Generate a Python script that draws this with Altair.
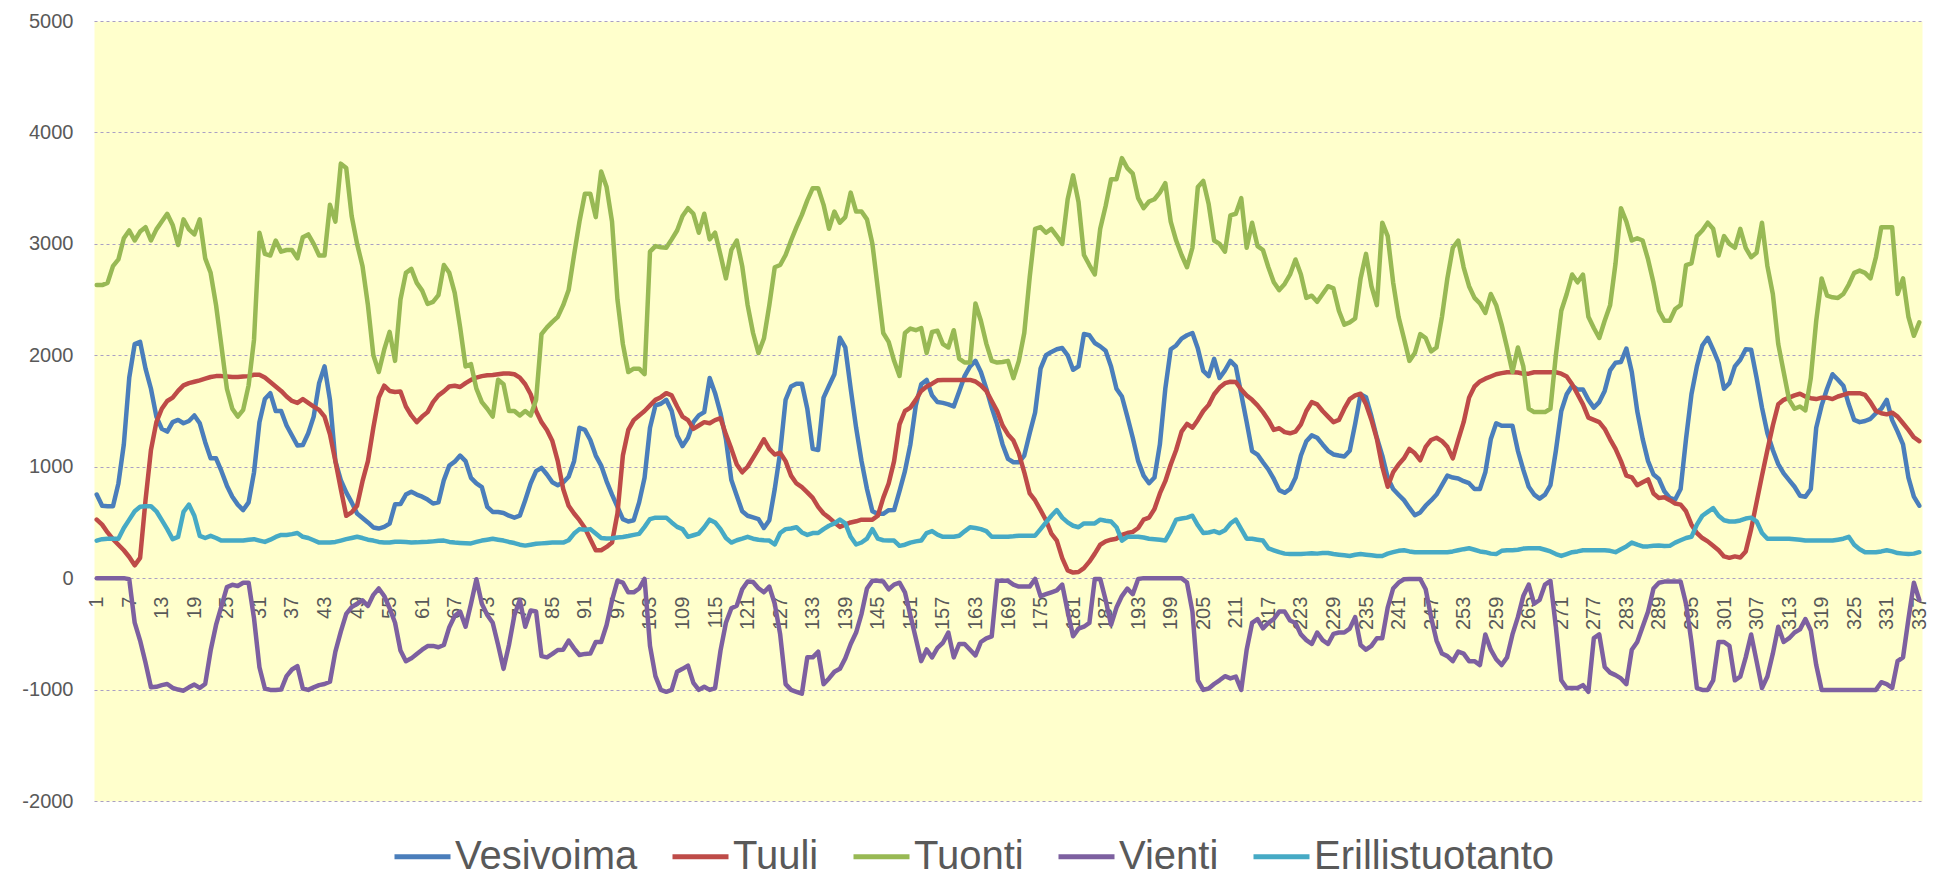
import altair as alt
import pandas as pd

categories = list(range(1, 338))
tick_labels = list(range(1, 338, 6))
y_ticks = list(range(-2000, 5001, 1000))

series_names = ["Vesivoima", "Tuuli", "Tuonti", "Vienti", "Erillistuotanto"]
series_colors = ["#4A7EBB", "#BE4B48", "#98B954", "#7D60A0", "#46AAC5"]

vesivoima = [
    750, 650, 645, 645, 850, 1200, 1800, 2100, 2120, 1880,
    1700, 1450, 1340, 1315, 1400, 1420, 1390, 1410, 1460, 1390,
    1220, 1075, 1075, 960, 830, 730, 660, 611, 680, 950,
    1400, 1607, 1660, 1500, 1500, 1370, 1280, 1190, 1195, 1300,
    1450, 1750, 1900, 1600, 1050, 880, 770, 680, 580, 540,
    500, 455, 445, 460, 490, 663, 665, 750, 775, 750,
    731, 705, 670, 680, 880, 1010, 1045, 1100, 1050, 900,
    850, 817, 640, 594, 594, 585, 560, 543, 560, 700,
    850, 960, 990, 930, 860, 834, 860, 910, 1050, 1350,
    1330, 1240, 1100, 1010, 869, 750, 640, 530, 508, 520,
    680, 900, 1350, 1550, 1565, 1600, 1500, 1280, 1185, 1260,
    1400, 1460, 1490, 1796, 1660, 1480, 1246, 880, 740, 600,
    560, 545, 530, 450, 520, 800, 1130, 1600, 1720, 1745,
    1745, 1520, 1160, 1150, 1620, 1727, 1830, 2157, 2071, 1700,
    1350, 1050, 800, 600, 577, 577, 610, 611, 780, 960,
    1200, 1550, 1740, 1779, 1640, 1580, 1573, 1560, 1540, 1676,
    1813, 1900, 1950, 1850, 1700, 1530, 1380, 1200, 1070, 1040,
    1040, 1100, 1300, 1487, 1880, 2000, 2030, 2054, 2065, 2000,
    1870, 1900, 2191, 2180, 2110, 2080, 2040, 1900, 1700, 1630,
    1450, 1260, 1050, 920, 852, 903, 1200, 1700, 2054, 2088,
    2150, 2180, 2200, 2060, 1860, 1813, 1968, 1796, 1865, 1950,
    1900, 1650, 1400, 1140, 1109, 1040, 975, 890, 790, 766,
    800, 900, 1100, 1229, 1281, 1260, 1200, 1143, 1110, 1100,
    1092, 1143, 1384, 1650, 1624, 1453, 1260, 1100, 900, 800,
    749, 700, 630, 565, 590, 650, 697, 750, 834, 920,
    903, 895, 870, 852, 800, 800, 950, 1246, 1390, 1367,
    1367, 1367, 1143, 972, 820, 750, 714, 749, 834, 1143,
    1500, 1650, 1727, 1693, 1693, 1600, 1530, 1580, 1680, 1865,
    1933, 1940, 2060, 1850, 1500, 1250, 1050, 930, 890, 780,
    720, 705, 800, 1250, 1650, 1900, 2088, 2157, 2050, 1933,
    1700, 1750, 1900, 1960, 2054, 2050, 1800, 1530, 1300, 1150,
    1023, 940, 880, 820, 740, 731, 800, 1350, 1550, 1700,
    1830, 1780, 1727, 1560, 1420, 1400, 1410, 1430, 1480, 1520,
    1600, 1418, 1315, 1200, 903, 731, 650,
]

tuuli = [
    525, 480, 410, 350, 300, 250, 190, 115, 182, 700,
    1150, 1400, 1520, 1590, 1620, 1680, 1730, 1750, 1762, 1775,
    1790, 1805, 1813, 1813, 1810, 1805, 1805, 1810, 1813, 1825,
    1825, 1800, 1760, 1720, 1680, 1630, 1590, 1573, 1607, 1573,
    1540, 1510, 1450, 1290, 1050, 800, 560, 590, 650, 870,
    1050, 1350, 1620, 1727, 1680, 1670, 1676, 1540, 1460, 1400,
    1450, 1490, 1580, 1640, 1676, 1720, 1727, 1715, 1750, 1780,
    1800, 1813, 1820, 1823, 1830, 1837, 1837, 1830, 1800, 1740,
    1650, 1500, 1400, 1330, 1230, 1050, 800, 650, 580, 520,
    450, 350, 250, 250, 280, 320, 580, 1100, 1330, 1418,
    1460, 1500, 1550, 1600, 1624, 1660, 1640, 1540, 1450, 1418,
    1340, 1370, 1400, 1390, 1418, 1435, 1290, 1160, 1020, 950,
    1000, 1080, 1160, 1246, 1160, 1109, 1126, 1050, 920, 850,
    817, 770, 720, 640, 580, 543, 500, 460, 480, 500,
    510, 525, 525, 525, 560, 720, 850, 1050, 1380, 1500,
    1530, 1600, 1680, 1720, 1745, 1775, 1779, 1779, 1779, 1779,
    1779, 1779, 1765, 1730, 1680, 1590, 1500, 1370, 1290, 1235,
    1120, 950, 760, 697, 610, 520, 400, 337, 180, 70,
    50, 55, 90, 148, 220, 300, 330, 345, 354, 388,
    405, 415, 450, 525, 543, 620, 760, 870, 1020, 1150,
    1315, 1384, 1350, 1420, 1500, 1555, 1650, 1710, 1750, 1762,
    1760, 1693, 1640, 1600, 1550, 1490, 1420, 1330, 1345, 1310,
    1300, 1315, 1380, 1500, 1580, 1560, 1500, 1450, 1400, 1420,
    1521, 1607, 1640, 1655, 1560, 1420, 1250, 1000, 820, 950,
    1020, 1075, 1160, 1120, 1058, 1178, 1240, 1260, 1230, 1178,
    1075, 1240, 1400, 1620, 1720, 1765, 1790, 1810, 1830, 1840,
    1848, 1848, 1845, 1835, 1835, 1848, 1848, 1848, 1848, 1848,
    1835, 1810, 1740, 1650, 1560, 1440, 1420, 1400, 1340, 1246,
    1160, 1050, 920, 905, 834, 860, 886, 760, 720, 725,
    700, 670, 660, 600, 480, 405, 360, 330, 290, 250,
    195, 182, 195, 185, 240, 440, 680, 920, 1150, 1370,
    1560, 1600, 1620, 1640, 1655, 1630, 1615, 1607, 1620, 1620,
    1607, 1630, 1645, 1660, 1660, 1660, 1645, 1580, 1500, 1480,
    1470, 1485, 1450, 1390, 1330, 1264, 1229,
]

tuonti = [
    2630, 2630, 2650, 2800, 2860, 3050, 3120, 3030, 3110, 3150,
    3030, 3130, 3200, 3270, 3170, 2990, 3220, 3130, 3085, 3220,
    2870, 2740, 2450, 2080, 1700, 1520, 1450, 1510, 1730, 2140,
    3100, 2910, 2895, 3030, 2930, 2945, 2945, 2870, 3060, 3085,
    3000, 2895, 2895, 3350, 3200, 3720, 3680, 3250, 3000, 2800,
    2450, 2000, 1850, 2050, 2210, 1950, 2500, 2740, 2775, 2650,
    2580, 2460, 2480, 2540, 2810, 2740, 2560, 2250, 1900, 1920,
    1700, 1580, 1520, 1450, 1780, 1740, 1500, 1500, 1460, 1500,
    1460, 1600, 2190, 2250, 2300, 2345, 2450, 2585, 2900, 3200,
    3450, 3450, 3240, 3650, 3510, 3200, 2500, 2100, 1850, 1880,
    1880, 1830, 2930, 2980, 2970, 2965, 3040, 3120, 3250, 3320,
    3270, 3100, 3270, 3040, 3100, 2900, 2690, 2945, 3030, 2800,
    2450, 2200, 2020, 2150, 2450, 2790, 2810, 2900, 3030, 3150,
    3260, 3390, 3500, 3500, 3350, 3135, 3290, 3190, 3240, 3460,
    3290, 3290, 3220, 3000, 2600, 2200, 2120, 1950, 1815, 2200,
    2240, 2225, 2245, 2020, 2210, 2220, 2100, 2070, 2225, 1970,
    1935, 1935, 2465, 2310, 2105, 1950, 1935, 1940, 1950, 1795,
    1950, 2200, 2700, 3135, 3150, 3100, 3135, 3070, 3000, 3400,
    3615, 3375, 2900, 2810, 2725, 3135, 3340, 3580, 3580, 3770,
    3680, 3630, 3410, 3320, 3380, 3400, 3460, 3545, 3200, 3030,
    2900, 2790, 2965, 3510, 3565, 3355, 3030, 3000, 2930, 3255,
    3270, 3410, 2965, 3190, 2980, 2945, 2790, 2655, 2585, 2640,
    2725, 2860, 2725, 2515, 2535, 2480, 2550, 2620, 2600, 2400,
    2275, 2295, 2330, 2690, 2910, 2620, 2450, 3190, 3070, 2655,
    2345, 2150, 1950, 2020, 2190, 2155, 2035, 2070, 2345, 2690,
    2965, 3030, 2790, 2620, 2515, 2465, 2380, 2550, 2450, 2275,
    2070, 1850, 2070, 1900, 1520, 1490, 1490, 1490, 1520, 2000,
    2400, 2550, 2725, 2655, 2725, 2345, 2245, 2155, 2310, 2450,
    2825, 3320, 3200, 3030, 3050, 3030, 2860, 2650, 2400, 2310,
    2310, 2415, 2450, 2810, 2825, 3070, 3120, 3190, 3135, 2895,
    3070, 3000, 2965, 3135, 2965, 2880, 2920, 3190, 2800, 2550,
    2100, 1850, 1600, 1520, 1540, 1505, 1795, 2310, 2690, 2535,
    2520, 2515, 2550, 2635, 2740, 2760, 2740, 2690, 2880, 3150,
    3150, 3150, 2550, 2690, 2345, 2175, 2295,
]

vienti = [
    0, 0, 0, 0, 0, 0, -10, -400, -560, -760,
    -980, -975, -960, -950, -985, -1000, -1010, -980, -955, -985,
    -950, -650, -420, -250, -80, -60, -70, -41, -41, -360,
    -800, -990, -1003, -1003, -1000, -880, -820, -790, -990, -1003,
    -980, -960, -950, -930, -660, -480, -320, -260, -230, -200,
    -250, -150, -93, -160, -270, -400, -650, -745, -720, -680,
    -642, -610, -608, -620, -600, -440, -340, -300, -436, -230,
    -10, -230, -330, -400, -600, -814, -600, -333, -196, -436,
    -290, -300, -700, -711, -680, -645, -642, -560, -630, -690,
    -680, -677, -573, -573, -420, -200, -24, -41, -127, -127,
    -93, -7, -608, -880, -1003, -1020, -1003, -840, -814, -785,
    -940, -1003, -975, -1003, -986, -650, -400, -270, -247, -100,
    -30, -35, -90, -127, -76, -230, -505, -951, -1003, -1020,
    -1037, -711, -711, -660, -951, -900, -840, -814, -720, -591,
    -488, -320, -93, -24, -24, -30, -100, -58, -41, -127,
    -333, -539, -745, -640, -711, -625, -580, -488, -711, -591,
    -591, -642, -694, -573, -540, -522, -24, -24, -24, -58,
    -76, -76, -76, -7, -161, -144, -127, -110, -58, -299,
    -522, -453, -436, -402, -7, -7, -196, -419, -264, -161,
    -93, -144, -7, 0, 0, 0, 0, 0, 0, 0,
    0, -40, -300, -917, -1003, -990, -950, -917, -880, -900,
    -883, -1003, -642, -402, -367, -450, -402, -367, -300, -300,
    -380, -402, -505, -556, -591, -488, -556, -591, -500, -488,
    -488, -453, -350, -600, -642, -608, -539, -539, -264, -93,
    -41, -10, -7, -7, -7, -100, -350, -560, -677, -700,
    -745, -659, -677, -745, -745, -780, -505, -642, -728, -780,
    -711, -505, -350, -161, -58, -230, -196, -58, -24, -436,
    -917, -986, -986, -986, -960, -1020, -539, -505, -797, -848,
    -870, -900, -951, -642, -573, -436, -299, -93, -41, -31,
    -31, -31, -31, -230, -573, -986, -1003, -1003, -917, -573,
    -573, -608, -917, -883, -711, -505, -745, -986, -883, -677,
    -436, -573, -539, -488, -460, -367, -470, -780, -1003, -1003,
    -1003, -1003, -1003, -1003, -1003, -1003, -1003, -1003, -1003, -934,
    -951, -986, -745, -711, -367, -41, -196,
]

erillistuotanto = [
    337, 350, 354, 354, 354, 450, 525, 600, 640, 645,
    645, 600, 520, 440, 350, 370, 594, 660, 560, 380,
    360, 380, 360, 337, 337, 337, 337, 337, 345, 350,
    337, 325, 345, 370, 388, 388, 395, 405, 371, 360,
    340, 319, 319, 319, 325, 337, 350, 360, 371, 360,
    345, 337, 325, 319, 319, 326, 326, 324, 320, 321,
    324, 326, 330, 335, 337, 325, 319, 316, 314, 312,
    325, 337, 345, 354, 345, 337, 325, 315, 300, 292,
    300, 308, 312, 316, 319, 319, 319, 340, 400, 440,
    435, 440, 400, 360, 355, 358, 365, 370, 378, 388,
    397, 460, 530, 543, 543, 543, 500, 460, 440, 371,
    385, 400, 457, 525, 500, 440, 360, 319, 340, 354,
    371, 354, 345, 340, 337, 302, 405, 440, 445, 457,
    410, 388, 405, 405, 440, 470, 491, 525, 491, 371,
    302, 320, 354, 440, 354, 340, 337, 337, 290, 300,
    319, 330, 337, 405, 422, 390, 371, 371, 371, 380,
    420, 457, 450, 440, 422, 371, 371, 371, 371, 375,
    381, 381, 381, 381, 440, 500, 560, 611, 543, 500,
    470, 457, 491, 491, 491, 525, 515, 508, 457, 337,
    371, 371, 371, 365, 354, 350, 345, 337, 422, 525,
    535, 543, 560, 474, 405, 410, 422, 405, 430, 490,
    525, 440, 354, 354, 345, 337, 268, 250, 233, 220,
    216, 216, 216, 220, 223, 220, 225, 225, 216, 210,
    205, 199, 210, 216, 210, 205, 199, 199, 220, 233,
    245, 250, 240, 233, 233, 233, 233, 233, 233, 233,
    240, 250, 260, 268, 255, 240, 233, 220, 216, 245,
    250, 250, 255, 265, 268, 268, 268, 255, 240, 216,
    199, 216, 233, 240, 250, 250, 250, 250, 250, 245,
    233, 260, 285, 319, 300, 285, 285, 290, 292, 288,
    290, 319, 340, 360, 371, 480, 560, 594, 628, 560,
    520, 508, 508, 518, 535, 543, 510, 405, 354, 354,
    354, 354, 354, 350, 345, 337, 337, 337, 337, 337,
    337, 345, 354, 371, 300, 260, 233, 233, 233, 240,
    250, 240, 225, 220, 216, 220, 233,
]

all_series = [vesivoima, tuuli, tuonti, vienti, erillistuotanto]
for name, vals in zip(series_names, all_series):
    if len(vals) != len(categories):
        raise ValueError(f"{name} has {len(vals)} values, expected {len(categories)}")

rows = []
for k, (name, vals) in enumerate(zip(series_names, all_series)):
    for c, v in zip(categories, vals):
        rows.append({"Tunti": c, "MW": v, "Sarja": name, "jarj": k})
df = pd.DataFrame(rows)

FONT = "Liberation Sans"
GREY = "#595959"

PLOT_W = 1828
PLOT_H = 780
zero_offset = -PLOT_H * 2000 / 7000

chart = (
    alt.Chart(df)
    .mark_line(strokeWidth=4.5, strokeJoin="round", strokeCap="round")
    .encode(
        x=alt.X(
            "Tunti:Q",
            scale=alt.Scale(domain=[0.5, 337.5], nice=False, zero=False),
            axis=alt.Axis(
                values=tick_labels,
                labelAngle=-90,
                grid=False,
                domain=False,
                ticks=False,
                title=None,
                offset=zero_offset,
                labelPadding=18,
                labelFontSize=20,
                labelFont=FONT,
                labelColor=GREY,
                labelOverlap=False,
                labelFlush=False,
                labelBound=False,
            ),
        ),
        y=alt.Y(
            "MW:Q",
            scale=alt.Scale(domain=[-2000, 5000], nice=False),
            axis=alt.Axis(
                values=y_ticks,
                labelExpr="'' + datum.value",
                title=None,
                domain=False,
                ticks=False,
                labelPadding=21,
                labelFontSize=20,
                labelFont=FONT,
                labelColor=GREY,
                grid=True,
                gridColor="#A99FC4",
                gridDash=[3, 3],
                gridWidth=1,
            ),
        ),
        color=alt.Color(
            "Sarja:N",
            scale=alt.Scale(domain=series_names, range=series_colors),
            legend=alt.Legend(
                title=None,
                orient="none",
                direction="horizontal",
                legendX=298,
                legendY=805,
                symbolType="stroke",
                symbolSize=3136,
                symbolStrokeWidth=5,
                labelFontSize=40,
                labelFont=FONT,
                labelColor=GREY,
                labelOffset=2,
                labelLimit=500,
                columnPadding=24,
            ),
        ),
        order=alt.Order("jarj:Q"),
    )
    .properties(
        width=PLOT_W,
        height=PLOT_H,
        background="white",
        autosize=alt.AutoSizeParams(type="none"),
        padding={"left": 86, "top": 13, "right": 20, "bottom": 75},
    )
    .configure_view(fill="#FFFFCC", stroke="transparent")
)

chart.save("out.html", embed_options={"renderer": "svg", "actions": False})
